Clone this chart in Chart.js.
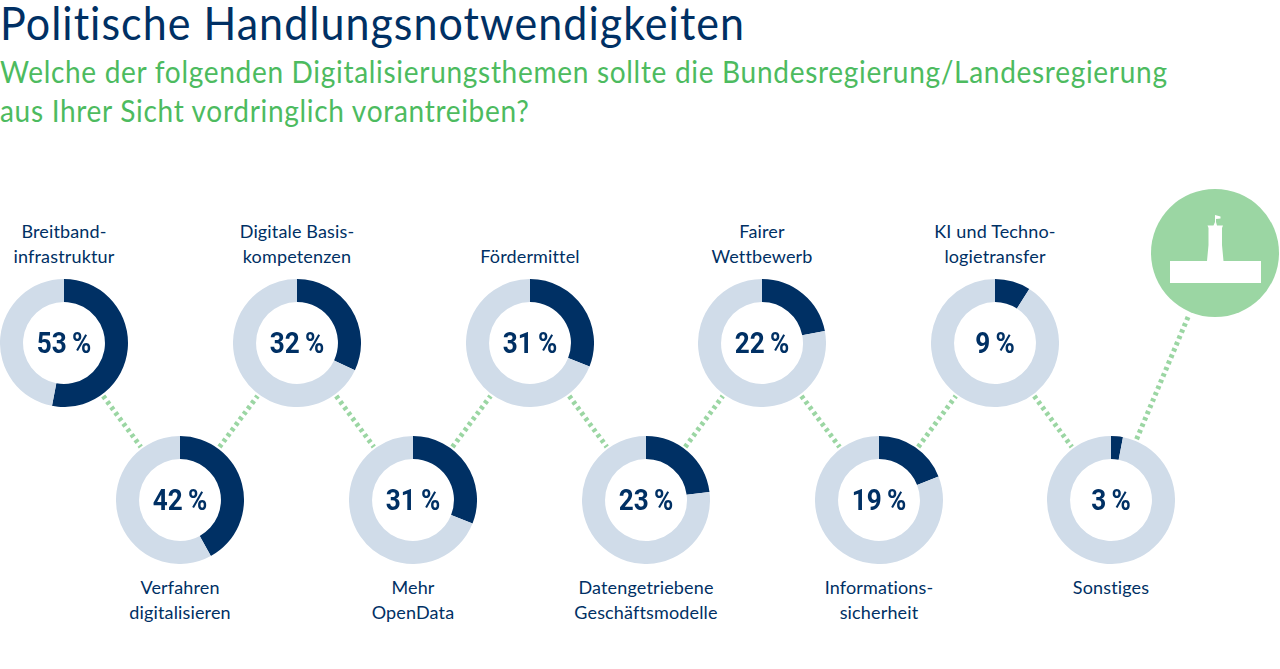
<!DOCTYPE html>
<html lang="de">
<head>
<meta charset="utf-8">
<title>Politische Handlungsnotwendigkeiten</title>
<script src="https://cdn.jsdelivr.net/npm/chart.js@4"></script>
<style>
  html, body { margin: 0; padding: 0; background: #fff; }
  body { width: 1280px; height: 669px; position: relative; overflow: hidden; font-family: Lato, sans-serif; }
  h1, h2 { margin: 0; position: absolute; left: 0; font-weight: 400; white-space: nowrap; transform-origin: 0 0; }
  h1 { top: 0; font-size: 46px; line-height: 46px; color: #003064; letter-spacing: 1.1px; transform: scaleX(0.935); }
  h2 { font-size: 31px; line-height: 39px; color: #4dbb5f; letter-spacing: 0.75px; transform: scaleX(0.905); }
  .label { position: absolute; width: 200px; text-align: center; font-size: 18px; line-height: 25px; color: #003064; letter-spacing: 0.15px; white-space: pre-line; }
  .pct { position: absolute; width: 128px; text-align: center; font-family: Roboto, sans-serif; font-size: 29px; line-height: 34px; font-weight: 700; color: #003064; transform: scaleX(0.9); }
  canvas { position: absolute; }
  svg { position: absolute; left: 0; top: 0; }
</style>
</head>
<body>
<h1>Politische Handlungsnotwendigkeiten</h1>
<h2 style="top:52px">Welche der folgenden Digitalisierungsthemen sollte die Bundesregierung/Landesregierung</h2>
<h2 style="top:91px">aus Ihrer Sicht vordringlich vorantreiben?</h2>
<svg id="deco" width="1280" height="669"></svg>
<script>
const categories = [
  'Breitband-\ninfrastruktur', 'Verfahren\ndigitalisieren', 'Digitale Basis-\nkompetenzen',
  'Mehr\nOpenData', 'Fördermittel', 'Datengetriebene\nGeschäftsmodelle',
  'Fairer\nWettbewerb', 'Informations-\nsicherheit', 'KI und Techno-\nlogietransfer', 'Sonstiges'
];
const values = [53, 42, 32, 31, 31, 23, 22, 19, 9, 3];

const centerX = [64, 180, 297, 413, 530, 646, 762, 879, 995, 1111];
const topY = 343, bottomY = 500, radius = 64;
const dark = '#003064', light = '#d0dce9', green = '#9bd6a3';

const deco = document.getElementById('deco');
function svgEl(name, attrs) {
  const el = document.createElementNS('http://www.w3.org/2000/svg', name);
  for (const k in attrs) el.setAttribute(k, attrs[k]);
  deco.appendChild(el);
}

// dotted connectors stop just outside each ring
function connector(x1, y1, x2, y2) {
  const len = Math.hypot(x2 - x1, y2 - y1), t = 66 / len;
  svgEl('line', {
    x1: x1 + (x2 - x1) * t, y1: y1 + (y2 - y1) * t,
    x2: x2 - (x2 - x1) * t, y2: y2 - (y2 - y1) * t,
    stroke: green, 'stroke-width': 5, 'stroke-dasharray': '3.4 3.4'
  });
}

const iconX = 1215, iconY = 253;
values.forEach((v, i) => {
  const y = i % 2 ? bottomY : topY;
  if (i < values.length - 1) connector(centerX[i], y, centerX[i + 1], i % 2 ? topY : bottomY);
  else connector(centerX[i], y, iconX, iconY);
});

// building icon
svgEl('circle', { cx: iconX, cy: iconY, r: radius, fill: green });
svgEl('path', {
  fill: '#fff',
  d: 'M1170 261H1207L1208.500 245V228L1207.500 225.500H1213.500L1215 222V215L1220.500 216.500V218.500L1216 219V222L1217 225.500H1223L1222 228V245L1223.500 261H1261V283H1170Z'
});

values.forEach((v, i) => {
  const x = centerX[i], y = i % 2 ? bottomY : topY;

  const canvas = document.createElement('canvas');
  canvas.width = canvas.height = radius * 2;
  canvas.style.left = (x - radius) + 'px';
  canvas.style.top = (y - radius) + 'px';
  document.body.appendChild(canvas);
  new Chart(canvas, {
    type: 'doughnut',
    data: {
      labels: ['Ja', 'Rest'],
      datasets: [{ data: [v, 100 - v], backgroundColor: [dark, light], borderWidth: 0 }]
    },
    options: {
      responsive: false,
      animation: false,
      cutout: '64%',
      plugins: { legend: { display: false }, tooltip: { enabled: false } }
    }
  });

  const pct = document.createElement('div');
  pct.className = 'pct';
  pct.style.left = (x - radius) + 'px';
  pct.style.top = (y - 17) + 'px';
  pct.textContent = v + '\u2009%';
  document.body.appendChild(pct);

  const label = document.createElement('div');
  label.className = 'label';
  label.style.left = (x - 100) + 'px';
  label.style.top = (i % 2 ? 575 : 219 + (categories[i].includes('\n') ? 0 : 25)) + 'px';
  label.textContent = categories[i];
  document.body.appendChild(label);
});
</script>
</body>
</html>
